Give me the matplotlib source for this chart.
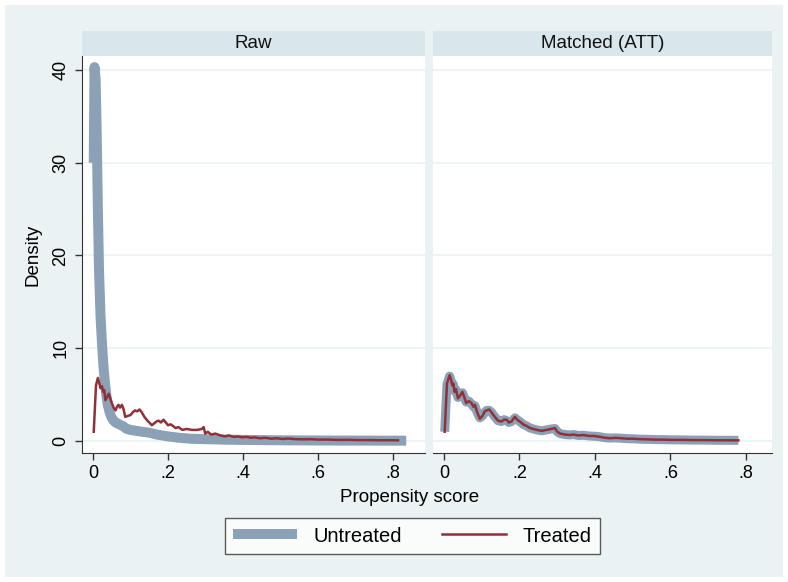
import matplotlib
matplotlib.use("Agg")
import matplotlib.pyplot as plt
from matplotlib.patches import Rectangle
from matplotlib.lines import Line2D

plt.rcParams['font.family'] = ['Liberation Sans', 'DejaVu Sans']

panel_titles = ["Raw", "Matched (ATT)"]
series_labels = ["Untreated", "Treated"]
x_ticks = [0, 0.2, 0.4, 0.6, 0.8]
x_ticklabels = ["0", ".2", ".4", ".6", ".8"]
y_ticks = [0, 10, 20, 30, 40]
y_ticklabels = ["0", "10", "20", "30", "40"]

# Raw panel - untreated
raw_untr_x = [0.002, 0.004, 0.007, 0.010, 0.013, 0.016, 0.020, 0.024, 0.028, 0.032, 0.036,
              0.040, 0.045, 0.050, 0.055, 0.060, 0.070, 0.080, 0.090, 0.100, 0.115, 0.130,
              0.150, 0.170, 0.200, 0.230, 0.260, 0.300, 0.350, 0.400, 0.450, 0.500, 0.550,
              0.600, 0.650, 0.700, 0.750, 0.800, 0.835]
raw_untr_y = [30.0, 40.3, 39.0, 33.0, 25.0, 18.5, 13.5, 10.5, 8.0, 6.2, 4.8,
              3.8, 3.0, 2.5, 2.2, 2.0, 1.8, 1.6, 1.3, 1.2, 1.1, 1.0,
              0.9, 0.7, 0.5, 0.35, 0.25, 0.2, 0.15, 0.12, 0.1, 0.08, 0.07,
              0.06, 0.05, 0.05, 0.04, 0.04, 0.04]

# Raw panel - treated
raw_trt_x = [0.002, 0.008, 0.013, 0.017, 0.020, 0.024, 0.027, 0.030, 0.033, 0.037, 0.042,
             0.046, 0.050, 0.055, 0.060, 0.064, 0.068, 0.072, 0.077, 0.081, 0.086, 0.092,
             0.100, 0.106, 0.112, 0.118, 0.124, 0.130, 0.137, 0.143, 0.150, 0.157, 0.163,
             0.169, 0.175, 0.181, 0.188, 0.194, 0.200, 0.207, 0.214, 0.220, 0.228, 0.238,
             0.250, 0.264, 0.278, 0.290, 0.295, 0.299, 0.306, 0.315, 0.326, 0.340, 0.352,
             0.362, 0.375, 0.386, 0.397, 0.410, 0.420, 0.430, 0.445, 0.460, 0.475, 0.490,
             0.505, 0.520, 0.540, 0.560, 0.580, 0.600, 0.625, 0.650, 0.680, 0.710, 0.740,
             0.770, 0.790, 0.813]
raw_trt_y = [1.0, 6.0, 6.8, 6.2, 5.7, 5.9, 5.3, 5.5, 4.4, 4.7, 5.1,
             4.6, 4.1, 3.6, 3.3, 3.7, 3.9, 3.6, 3.9, 3.5, 2.6, 2.7,
             2.8, 3.1, 3.3, 3.2, 3.4, 3.1, 2.6, 2.3, 2.0, 1.7, 1.9,
             2.1, 2.2, 2.0, 2.3, 2.0, 1.7, 1.8, 1.6, 1.4, 1.5, 1.2,
             1.3, 1.2, 1.2, 1.3, 1.5, 0.8, 1.0, 0.7, 0.8, 0.6, 0.5,
             0.6, 0.45, 0.5, 0.4, 0.45, 0.35, 0.4, 0.3, 0.35, 0.25, 0.3,
             0.22, 0.27, 0.2, 0.18, 0.2, 0.15, 0.16, 0.12, 0.13, 0.1, 0.1,
             0.08, 0.09, 0.07]

# Matched panel
m_x = [0.002, 0.008, 0.015, 0.019, 0.022, 0.025, 0.028, 0.032, 0.037, 0.043, 0.049,
       0.054, 0.059, 0.066, 0.073, 0.078, 0.082, 0.088, 0.095, 0.102, 0.108, 0.113,
       0.120, 0.126, 0.131, 0.135, 0.143, 0.152, 0.159, 0.166, 0.172, 0.179, 0.184,
       0.188, 0.194, 0.201, 0.210, 0.220, 0.228, 0.237, 0.246, 0.258, 0.272, 0.284,
       0.294, 0.300, 0.308, 0.320, 0.333, 0.343, 0.356, 0.370, 0.383, 0.396, 0.405,
       0.414, 0.427, 0.440, 0.455, 0.470, 0.485, 0.500, 0.520, 0.540, 0.560, 0.580,
       0.600, 0.630, 0.660, 0.690, 0.720, 0.750, 0.780]
m_trt_y = [1.0, 6.2, 7.1, 6.6, 6.0, 6.2, 5.3, 5.6, 4.6, 4.9, 5.3,
           4.7, 4.1, 4.3, 4.1, 3.7, 3.9, 3.1, 2.4, 2.7, 3.2, 3.3,
           3.4, 3.1, 2.8, 2.6, 2.2, 2.1, 2.3, 2.3, 2.0, 2.1, 2.4,
           2.6, 2.3, 2.1, 1.8, 1.6, 1.4, 1.3, 1.2, 1.1, 1.2, 1.3,
           1.4, 1.0, 0.8, 0.7, 0.65, 0.7, 0.6, 0.65, 0.55, 0.55, 0.5,
           0.45, 0.35, 0.3, 0.35, 0.3, 0.25, 0.25, 0.2, 0.18, 0.15, 0.15,
           0.12, 0.12, 0.1, 0.1, 0.08, 0.08, 0.07]
m_untr_y = [1.0, 6.1, 7.0, 6.5, 6.0, 6.1, 5.4, 5.5, 4.7, 4.9, 5.2,
            4.7, 4.2, 4.3, 4.0, 3.7, 3.8, 3.1, 2.5, 2.7, 3.1, 3.3,
            3.3, 3.1, 2.8, 2.6, 2.2, 2.1, 2.3, 2.2, 2.0, 2.1, 2.3,
            2.5, 2.3, 2.1, 1.8, 1.6, 1.4, 1.3, 1.2, 1.1, 1.2, 1.3,
            1.35, 1.0, 0.8, 0.7, 0.65, 0.7, 0.6, 0.62, 0.55, 0.52, 0.5,
            0.45, 0.36, 0.32, 0.34, 0.3, 0.26, 0.24, 0.2, 0.18, 0.16, 0.15,
            0.13, 0.12, 0.1, 0.1, 0.08, 0.08, 0.07]

UNTR_COLOR = "#8BA1B5"
TRT_COLOR = "#903139"
OUTER_BG = "#EAF2F3"
STRIP_BG = "#D9E6EB"
GRID_C = "#EAF2F3"

W, H = 788, 582
fig = plt.figure(figsize=(W / 100, H / 100), dpi=100)
fig.patch.set_facecolor("white")
fig.patches.append(Rectangle((5 / W, 5 / H), 1 - 10 / W, 1 - 10 / H, transform=fig.transFigure,
                             facecolor=OUTER_BG, edgecolor="none", zorder=-10))

def fx(px):
    return px / W

def fy(py):
    return 1 - py / H

panels = [
    dict(left=82, right=425, xlim=(-0.0293, 0.885)),
    dict(left=433, right=772, xlim=(-0.029, 0.869)),
]
top, bottom = 56, 453
strip_top = 31

axes = []
for i, p in enumerate(panels):
    ax = fig.add_axes([fx(p['left']), fy(bottom), fx(p['right'] - p['left']), (bottom - top) / H])
    ax.set_facecolor("white")
    ax.set_xlim(*p['xlim'])
    ax.set_ylim(-1.29, 41.5)
    for y in y_ticks:
        ax.axhline(y, color=GRID_C, lw=1.2, zorder=0)
    ax.set_xticks(x_ticks)
    ax.set_xticklabels(x_ticklabels, fontsize=13)
    ax.tick_params(axis='x', direction='out', length=5, width=1, color="#333333", pad=4)
    for s in ['top', 'right']:
        ax.spines[s].set_visible(False)
    ax.spines['bottom'].set_color("#333333")
    if i == 0:
        ax.set_yticks(y_ticks)
        ax.set_yticklabels(y_ticklabels, fontsize=13, rotation=90, va='center')
        ax.tick_params(axis='y', direction='out', length=5, width=1, color="#333333", pad=4)
        ax.spines['left'].set_color("#333333")
        ax.set_ylabel("Density", fontsize=13.5, labelpad=8)
    else:
        ax.set_yticks([])
        ax.spines['left'].set_visible(False)
    # strip
    fig.patches.append(Rectangle((fx(p['left']), fy(top)), fx(p['right'] - p['left']), (top - strip_top) / H,
                                 transform=fig.transFigure, facecolor=STRIP_BG, edgecolor="none"))
    fig.text(fx((p['left'] + p['right']) / 2), fy((top + strip_top) / 2), panel_titles[i],
             ha='center', va='center', fontsize=13.5, color="#111111")
    axes.append(ax)

axes[0].plot(raw_untr_x, raw_untr_y, color=UNTR_COLOR, lw=7.2, solid_capstyle='butt',
             solid_joinstyle='round', zorder=2)
axes[0].plot(raw_trt_x, raw_trt_y, color=TRT_COLOR, lw=1.8, solid_joinstyle='round', zorder=3)
axes[1].plot(m_x, m_untr_y, color=UNTR_COLOR, lw=6.5, solid_capstyle='butt',
             solid_joinstyle='round', zorder=2)
axes[1].plot(m_x, m_trt_y, color=TRT_COLOR, lw=1.8, solid_joinstyle='round', zorder=3)

fig.text(fx(410), fy(498), "Propensity score", ha='center', va='center', fontsize=13.5)

handles = [Line2D([0], [0], color=UNTR_COLOR, lw=7.2, solid_capstyle='butt'),
           Line2D([0], [0], color=TRT_COLOR, lw=1.8)]
leg = fig.legend(handles, series_labels, loc='center', bbox_to_anchor=(fx(412), fy(536)),
                 ncol=2, fontsize=14.5, frameon=True, fancybox=False, handlelength=3.2,
                 columnspacing=2.0, handletextpad=0.8, borderpad=0.4)
leg.get_frame().set_edgecolor("#333333")
leg.get_frame().set_linewidth(1.0)

fig.savefig("out.png", dpi=100, facecolor=fig.get_facecolor())
